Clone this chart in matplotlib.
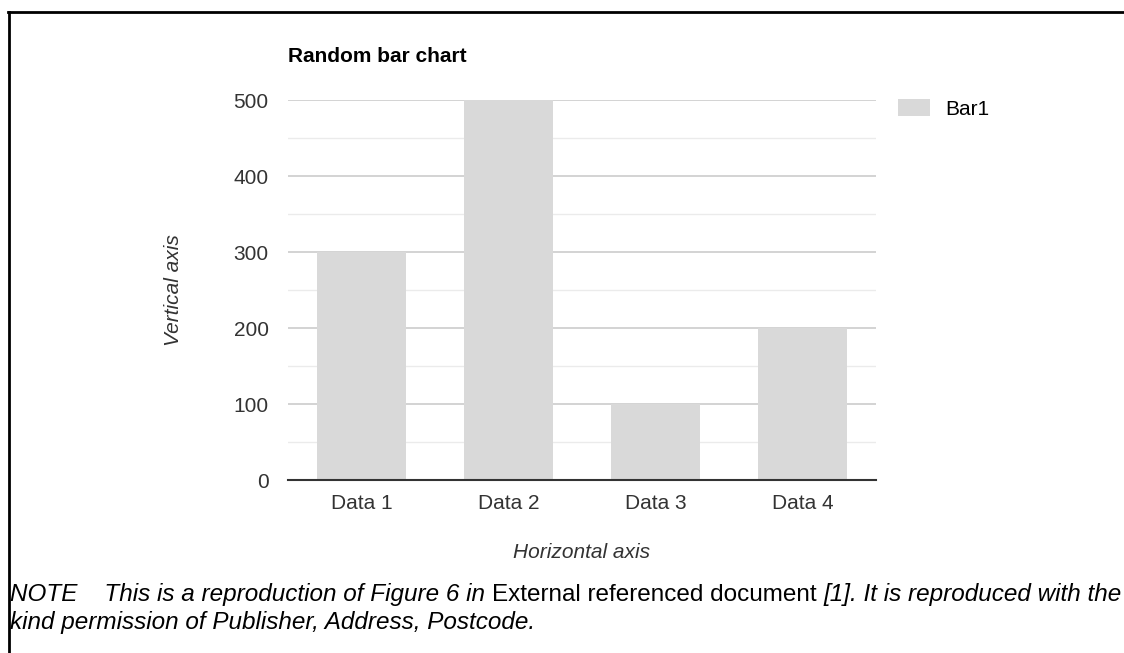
import matplotlib
matplotlib.use("Agg")
import matplotlib.pyplot as plt
from matplotlib.lines import Line2D
from matplotlib.patches import Patch

categories = ["Data 1", "Data 2", "Data 3", "Data 4"]
bar1 = [300, 500, 100, 200]
y_ticks = [0, 100, 200, 300, 400, 500]

W, H = 1124, 653
FS = 15
plt.rcParams["font.family"] = ["Liberation Sans", "DejaVu Sans"]

fig = plt.figure(figsize=(W / 100, H / 100), dpi=100)

# plot area in pixels: x 288..876, y 100..480
ax = fig.add_axes([288 / W, 1 - 480 / H, 588 / W, 380 / H])
x = range(len(categories))
ax.bar(x, bar1, width=0.61, color="#d9d9d9", label="Bar1", zorder=2)
ax.set_xlim(-0.5, len(categories) - 0.5)
ax.set_ylim(0, 500)
ax.set_yticks(y_ticks)
ax.set_yticks([50, 150, 250, 350, 450], minor=True)
ax.set_xticks(list(x))
ax.set_xticklabels(categories)
ax.grid(axis="y", which="major", color="#cccccc", lw=1.2, zorder=0)
ax.grid(axis="y", which="minor", color="#ebebeb", lw=1.0, zorder=0)
for s in ["top", "right", "left"]:
    ax.spines[s].set_visible(False)
ax.spines["bottom"].set_color("#333333")
ax.spines["bottom"].set_linewidth(1.5)
ax.spines["bottom"].set_zorder(3)
ax.tick_params(axis="both", which="both", length=0, labelsize=FS, colors="#333333")
ax.tick_params(axis="y", pad=14)
ax.tick_params(axis="x", pad=10)
ax.set_title("Random bar chart", loc="left", fontsize=FS, fontweight="bold", pad=27)
ax.set_ylabel("Vertical axis", fontsize=FS, style="italic", color="#333333", labelpad=36)
ax.set_xlabel("Horizontal axis", fontsize=FS, style="italic", color="#333333", labelpad=22)

handle = Patch(facecolor="#d9d9d9", edgecolor="none")
fig.legend([handle], ["Bar1"], loc="upper left", bbox_to_anchor=(898 / W, 1 - 99 / H),
           frameon=False, fontsize=FS, borderpad=0, borderaxespad=0,
           handlelength=1.55, handleheight=0.9, handletextpad=0.7)

# frame of the figure box
fig.add_artist(Line2D([9 / W, 9 / W], [0, 1 - 12 / H], color="black", lw=2, transform=fig.transFigure))
fig.add_artist(Line2D([8 / W, 1], [1 - 12 / H, 1 - 12 / H], color="black", lw=2, transform=fig.transFigure))

# note with mixed italic / upright runs
note1 = [("NOTE    This is a reproduction of Figure 6 in ", "italic"),
         ("External referenced document ", "normal"),
         ("[1]. It is reproduced with the", "italic")]
note2 = [("kind permission of Publisher, Address, Postcode.", "italic")]

fig.canvas.draw()
renderer = fig.canvas.get_renderer()
for runs, ypix in [(note1, 601), (note2, 629)]:
    xpix = 10
    for txt, st in runs:
        t = fig.text(xpix / W, 1 - ypix / H, txt, fontsize=17.5, style=st, va="baseline")
        xpix += t.get_window_extent(renderer).width

fig.savefig("out.png", dpi=100)
